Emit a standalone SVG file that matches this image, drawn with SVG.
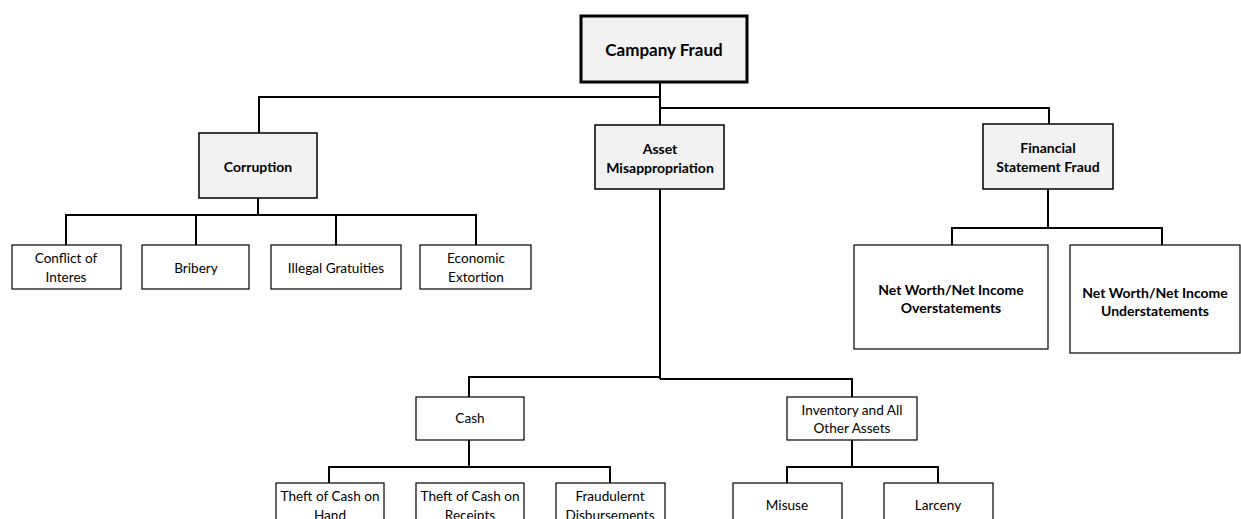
<svg xmlns="http://www.w3.org/2000/svg" width="1241" height="519" viewBox="0 0 1241 519">
<style>
.hd{fill:#f2f2f2;stroke:#000;stroke-width:1.5}
.bx{fill:#fff;stroke:#000;stroke-width:1.2}
.ln{fill:none;stroke:#000;stroke-width:2}
text{font-family:Lato,"Open Sans","Liberation Sans",sans-serif;font-size:13.6px;fill:#000;text-anchor:middle;dominant-baseline:central}
.b{font-weight:bold;font-size:14px}
</style>
<rect width="1241" height="519" fill="#fff"/>
<g id="connectors">
<path class="ln" d="M660,82 V108 M259,133 V97 H660 M660,108 H1049 V124 M660,108 V125"/>
<path class="ln" d="M258,198 V216 M66,245 V215 H476 V245 M196,215 V245 M336,215 V245"/>
<path class="ln" d="M1048,189 V228 M952,245 V228 H1162 V245"/>
<path class="ln" d="M660,189 V379 M469,397 V377 H660 M660,379 H852 V397"/>
<path class="ln" d="M469,440 V467 M329,483 V467 H610 V483"/>
<path class="ln" d="M852,440 V467 M787,483 V467 H938 V483"/>
</g>
<g id="campany-fraud"><rect x="581" y="16" width="166" height="66" fill="#f2f2f2" stroke="#000" stroke-width="3"/><text class="b" x="664" y="49" style="font-size:17px">Campany Fraud</text></g>
<g id="corruption"><rect class="hd" x="199" y="133" width="118" height="65"/><text class="b" x="258" y="166">Corruption</text></g>
<g id="asset-misappropriation"><rect class="hd" x="595" y="125" width="129" height="64"/><text class="b" x="660" y="148">Asset</text><text class="b" x="660" y="167">Misappropriation</text></g>
<g id="financial-statement-fraud"><rect class="hd" x="983" y="124" width="130" height="65"/><text class="b" x="1048" y="147">Financial</text><text class="b" x="1048" y="166">Statement Fraud</text></g>
<g id="conflict"><rect class="bx" x="12" y="245" width="109" height="44"/><text x="66" y="258">Conflict of</text><text x="66" y="277">Interes</text></g>
<g id="bribery"><rect class="bx" x="142" y="245" width="107" height="44"/><text x="196" y="268">Bribery</text></g>
<g id="illegal-gratuities"><rect class="bx" x="271" y="245" width="130" height="44"/><text x="336" y="268">Illegal Gratuities</text></g>
<g id="economic-extortion"><rect class="bx" x="420" y="245" width="111" height="44"/><text x="476" y="258">Economic</text><text x="476" y="277">Extortion</text></g>
<g id="overstatements"><rect class="bx" x="854" y="245" width="194" height="104"/><text class="b" x="951" y="289">Net Worth/Net Income</text><text class="b" x="951" y="307">Overstatements</text></g>
<g id="understatements"><rect class="bx" x="1070" y="245" width="170" height="108"/><text class="b" x="1155" y="292">Net Worth/Net Income</text><text class="b" x="1155" y="310">Understatements</text></g>
<g id="cash"><rect class="bx" x="416" y="397" width="108" height="43"/><text x="470" y="418">Cash</text></g>
<g id="inventory"><rect class="bx" x="787" y="397" width="130" height="43"/><text x="852" y="410">Inventory and All</text><text x="852" y="428">Other Assets</text></g>
<g id="theft-hand"><rect class="bx" x="276" y="483" width="108" height="50"/><text x="330" y="496">Theft of Cash on</text><text x="330" y="515">Hand</text></g>
<g id="theft-receipts"><rect class="bx" x="416" y="483" width="108" height="50"/><text x="470" y="496">Theft of Cash on</text><text x="470" y="515">Receipts</text></g>
<g id="fraudulent-disbursements"><rect class="bx" x="556" y="483" width="109" height="50"/><text x="610" y="496">Fraudulernt</text><text x="610" y="515">Disbursements</text></g>
<g id="misuse"><rect class="bx" x="733" y="483" width="109" height="50"/><text x="787" y="505">Misuse</text></g>
<g id="larceny"><rect class="bx" x="884" y="483" width="109" height="50"/><text x="938" y="505">Larceny</text></g>
</svg>
